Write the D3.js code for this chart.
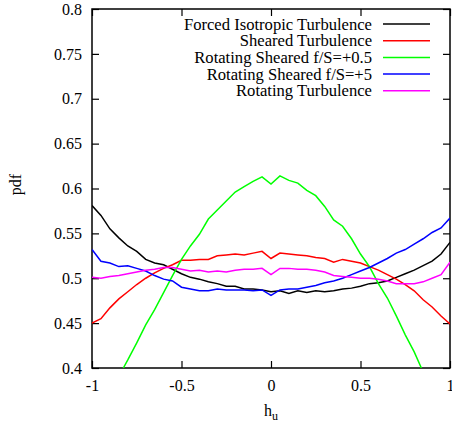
<!DOCTYPE html>
<html>
<head>
<meta charset="utf-8">
<script src="https://cdn.jsdelivr.net/npm/d3@7"></script>
<style>
  body { margin: 0; background: white; }
  svg text { font-family: "Liberation Serif", "Times New Roman", serif; }
</style>
</head>
<body>
<div id="container"></div>
<script>
/* DATA */
const hGrid = [-1, -0.95, -0.9, -0.85, -0.8, -0.75, -0.7, -0.65, -0.6, -0.55, -0.5,
  -0.45, -0.4, -0.35, -0.3, -0.25, -0.2, -0.15, -0.1, -0.05, 0,
  0.05, 0.1, 0.15, 0.2, 0.25, 0.3, 0.35, 0.4, 0.45, 0.5,
  0.55, 0.6, 0.65, 0.7, 0.75, 0.8, 0.85, 0.9, 0.95, 1];

const forcedIso = [0.581, 0.570, 0.555, 0.545, 0.536, 0.530, 0.521, 0.517, 0.515, 0.510, 0.505,
  0.501, 0.499, 0.496, 0.494, 0.491, 0.491, 0.488, 0.488, 0.487, 0.485,
  0.486, 0.483, 0.486, 0.484, 0.486, 0.485, 0.486, 0.488, 0.489, 0.491,
  0.494, 0.495, 0.497, 0.501, 0.505, 0.509, 0.514, 0.519, 0.527, 0.540];

const sheared = [0.450, 0.455, 0.467, 0.477, 0.485, 0.493, 0.500, 0.506, 0.511, 0.515, 0.520,
  0.520, 0.521, 0.521, 0.525, 0.526, 0.527, 0.526, 0.528, 0.530, 0.522,
  0.528, 0.527, 0.526, 0.525, 0.523, 0.522, 0.518, 0.521, 0.519, 0.517,
  0.513, 0.509, 0.504, 0.499, 0.493, 0.486, 0.476, 0.468, 0.458, 0.449];

const rotSheared5 = [0.532, 0.519, 0.517, 0.513, 0.514, 0.511, 0.508, 0.503, 0.499, 0.497, 0.490,
  0.488, 0.486, 0.486, 0.488, 0.487, 0.487, 0.487, 0.486, 0.487, 0.481,
  0.487, 0.488, 0.488, 0.490, 0.492, 0.495, 0.497, 0.500, 0.504, 0.508,
  0.512, 0.517, 0.522, 0.528, 0.532, 0.538, 0.544, 0.551, 0.556, 0.567];

const rotating = [0.501, 0.500, 0.502, 0.503, 0.505, 0.507, 0.509, 0.510, 0.512, 0.512, 0.510,
  0.508, 0.509, 0.507, 0.508, 0.507, 0.509, 0.510, 0.510, 0.511, 0.504,
  0.511, 0.511, 0.510, 0.510, 0.509, 0.507, 0.503, 0.502, 0.501, 0.500,
  0.500, 0.499, 0.497, 0.494, 0.494, 0.494, 0.496, 0.500, 0.504, 0.518];

// f/S=+0.5 curve leaves the frame at both ends
const hGreen = [-0.825, -0.8, -0.75, -0.7, -0.65, -0.6, -0.55, -0.5, -0.45, -0.4, -0.35,
  -0.3, -0.25, -0.2, -0.15, -0.1, -0.05, 0, 0.05, 0.1, 0.15,
  0.2, 0.25, 0.3, 0.35, 0.4, 0.45, 0.5, 0.55, 0.6, 0.65,
  0.7, 0.75, 0.8, 0.84];
const rotSheared05 = [0.400, 0.409, 0.428, 0.448, 0.465, 0.484, 0.503, 0.521, 0.536, 0.549, 0.566,
  0.576, 0.586, 0.596, 0.602, 0.608, 0.613, 0.605, 0.614, 0.609, 0.606,
  0.598, 0.592, 0.580, 0.565, 0.558, 0.544, 0.527, 0.513, 0.494, 0.478,
  0.458, 0.437, 0.418, 0.400];

const seriesNames = ["Forced Isotropic Turbulence", "Sheared Turbulence",
  "Rotating Sheared f/S=+0.5", "Rotating Sheared f/S=+5", "Rotating Turbulence"];
const seriesColors = ["#000000", "#ff0000", "#00ff00", "#0000ff", "#ff00ff"];
const seriesX = [hGrid, hGrid, hGreen, hGrid, hGrid];
const seriesY = [forcedIso, sheared, rotSheared05, rotSheared5, rotating];

const xTicks = [-1, -0.5, 0, 0.5, 1];
const yTicks = [0.4, 0.45, 0.5, 0.55, 0.6, 0.65, 0.7, 0.75, 0.8];

/* CONSTANTS AND GLOBALS */
const width = 452;
const height = 427;
const margin = { top: 9, bottom: 59, left: 92, right: 2 };
const serif = "'Liberation Serif', 'Times New Roman', serif";

/* SCALES */
const xScale = d3.scaleLinear()
  .domain([-1, 1])
  .range([margin.left, width - margin.right])

const yScale = d3.scaleLinear()
  .domain([0.4, 0.8])
  .range([height - margin.bottom, margin.top])

/* HTML ELEMENTS */
const svg = d3.select("#container")
  .append("svg")
  .attr("width", width)
  .attr("height", height)

const tickLen = 7;
const fmt = d => String(d)

// bottom + top axes (ticks point inwards)
svg.append("g")
  .attr("transform", `translate(0,${yScale(0.4)})`)
  .call(d3.axisBottom(xScale).tickValues(xTicks).tickSize(-tickLen).tickPadding(tickLen + 5).tickFormat(fmt))
svg.append("g")
  .attr("transform", `translate(0,${yScale(0.8)})`)
  .call(d3.axisTop(xScale).tickValues(xTicks).tickSize(-tickLen).tickFormat(""))

// left + right axes
svg.append("g")
  .attr("transform", `translate(${xScale(-1)},0)`)
  .call(d3.axisLeft(yScale).tickValues(yTicks).tickSize(-tickLen).tickPadding(tickLen + 3).tickFormat(fmt))
svg.append("g")
  .attr("transform", `translate(${xScale(1)},0)`)
  .call(d3.axisRight(yScale).tickValues(yTicks).tickSize(-tickLen).tickFormat(""))

svg.selectAll("g").attr("font-family", serif).attr("font-size", 16)
svg.selectAll(".domain").remove()
svg.selectAll(".tick line").attr("stroke", "black").attr("stroke-width", 1.2)
svg.selectAll(".tick text").attr("fill", "black")

// frame
svg.append("rect")
  .attr("x", xScale(-1))
  .attr("y", yScale(0.8))
  .attr("width", xScale(1) - xScale(-1))
  .attr("height", yScale(0.4) - yScale(0.8))
  .attr("fill", "none")
  .attr("stroke", "black")
  .attr("stroke-width", 1.5)

/* LINES */
svg.append("clipPath").attr("id", "plotclip")
  .append("rect")
  .attr("x", xScale(-1))
  .attr("y", yScale(0.8))
  .attr("width", xScale(1) - xScale(-1))
  .attr("height", yScale(0.4) - yScale(0.8))

const line = d3.line()
  .x(d => xScale(d[0]))
  .y(d => yScale(d[1]))

seriesNames.forEach((name, i) => {
  const pts = seriesX[i].map((h, j) => [h, seriesY[i][j]])
  svg.append("path")
    .datum(pts)
    .attr("clip-path", "url(#plotclip)")
    .attr("fill", "none")
    .attr("stroke", seriesColors[i])
    .attr("stroke-width", 1.5)
    .attr("d", line)
})

/* LEGEND */
const legend = svg.append("g")
  .attr("font-family", serif)
seriesNames.forEach((name, i) => {
  const y = 24 + i * 16.7;
  legend.append("text")
    .attr("x", 372)
    .attr("y", y + 5.5)
    .attr("text-anchor", "end")
    .style("font-size", "16.6px")
    .text(name)
  legend.append("line")
    .attr("x1", 383)
    .attr("x2", 430)
    .attr("y1", y)
    .attr("y2", y)
    .attr("stroke", seriesColors[i])
    .attr("stroke-width", 1.5)
})

/* AXIS LABELS */
svg.append("text")
  .attr("transform", `translate(21,${yScale(0.6) - 4}) rotate(-90)`)
  .attr("text-anchor", "middle")
  .style("font-size", "16px")
  .text("pdf")

const hLabel = svg.append("text")
  .attr("x", xScale(0))
  .attr("y", 416)
  .attr("text-anchor", "middle")
  .style("font-size", "16px")
hLabel.append("tspan").text("h")
hLabel.append("tspan").attr("dy", 4).style("font-size", "12px").text("u")
</script>
</body>
</html>
